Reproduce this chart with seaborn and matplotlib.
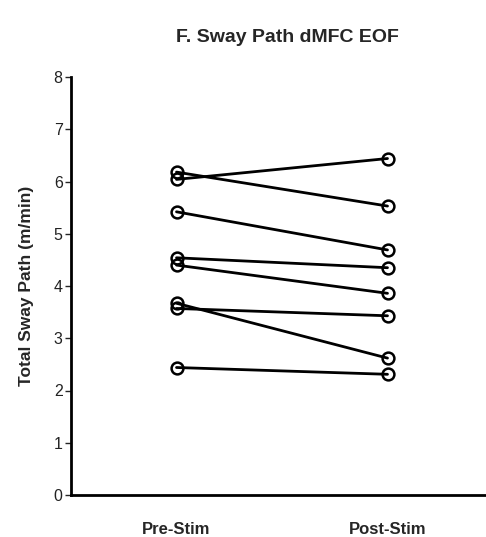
import matplotlib
matplotlib.use("Agg")
import matplotlib.pyplot as plt
import seaborn as sns
import pandas as pd

conditions = ["Pre-Stim", "Post-Stim"]
subjects = ["S1", "S2", "S3", "S4", "S5", "S6", "S7", "S8"]
pre_values = [6.18, 6.04, 5.42, 4.54, 4.40, 3.67, 3.57, 2.44]
post_values = [5.53, 6.44, 4.69, 4.35, 3.86, 2.62, 3.43, 2.31]
y_ticks = [0, 1, 2, 3, 4, 5, 6, 7, 8]

rows = []
for s, a, b in zip(subjects, pre_values, post_values):
    rows.append({"subject": s, "condition": conditions[0], "value": a})
    rows.append({"subject": s, "condition": conditions[1], "value": b})
df = pd.DataFrame(rows)

sns.set_style("ticks")
plt.rcParams["font.family"] = ["Liberation Sans", "DejaVu Sans"]

fig = plt.figure(figsize=(4.86, 5.37), dpi=100)
ax = fig.add_axes([71 / 486, 1 - 495 / 537, 422 / 486, 418 / 537])

sns.lineplot(data=df, x="condition", y="value", units="subject", estimator=None,
             color="black", linewidth=2.0, marker="o", markersize=8.5,
             markerfacecolor="none", markeredgecolor="black", markeredgewidth=1.8,
             ax=ax, legend=False)

ax.set_xlim(-0.5, 1.5)
ax.set_ylim(0, 8)
ax.set_yticks(y_ticks)
ax.set_yticklabels([str(t) for t in y_ticks], fontsize=11.5, color="#222222")
ax.tick_params(axis="y", length=4, width=1, pad=2)
ax.tick_params(axis="x", length=0, pad=19.5)
for lab in ax.get_xticklabels():
    lab.set_fontweight("bold")
    lab.set_fontsize(12)
ax.set_xlabel("")
ax.set_ylabel("Total Sway Path (m/min)", fontsize=12.5, fontweight="bold", labelpad=14)
for side in ["top", "right"]:
    ax.spines[side].set_visible(False)
for side in ["left", "bottom"]:
    ax.spines[side].set_linewidth(2)
    ax.spines[side].set_color("black")

fig.text(287 / 486, 1 - 37 / 537, "F. Sway Path dMFC EOF", ha="center", va="center",
         fontsize=14, fontweight="bold")

fig.savefig("out.png", dpi=100)
